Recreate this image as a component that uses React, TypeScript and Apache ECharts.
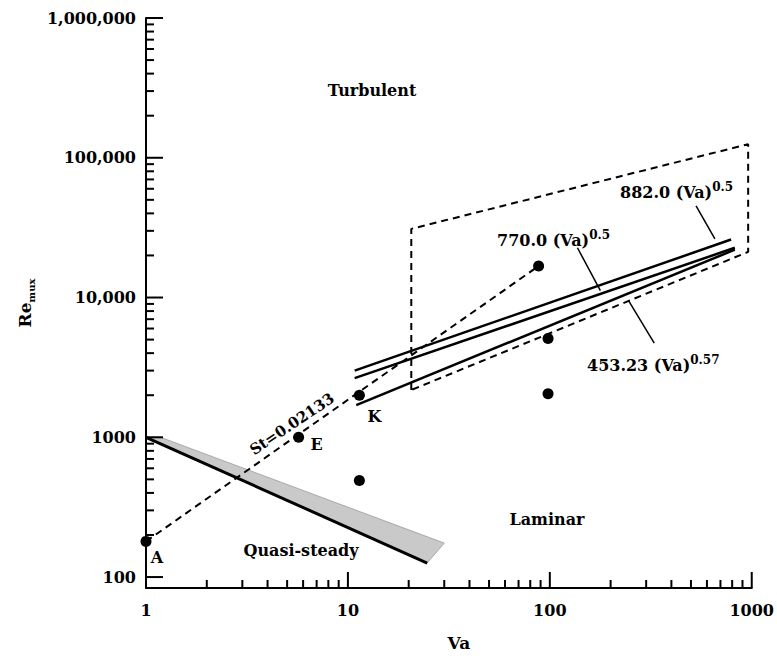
import React, { useEffect, useRef } from 'react';
import * as echarts from 'echarts';

// ---- axis ticks ----
const xTicks = [1, 10, 100, 1000];
const xTickLabels = ['1', '10', '100', '1000'];
const yTicks = [100, 1000, 10000, 100000, 1000000];
const yTickLabels = ['100', '1000', '10,000', '100,000', '1,000,000'];
const minorMult = [2, 3, 4, 5, 6, 7, 8, 9];
const xDecades = [1, 10, 100];
const yDecades = [100, 1000, 10000, 100000];
const X_MIN = 1;
const X_MAX = 1000;
const Y_MIN = 83.5;
const Y_MAX = 1000000;

// ---- data points ----
const pointX = [1, 5.7, 11.4, 11.4, 88, 98, 98];
const pointY = [180, 1000, 2000, 490, 16800, 5100, 2050];
const pointNames = ['A', 'E', 'K', '', '', '', ''];

// ---- St = 0.02133 dashed line ----
const stX = [1, 88];
const stY = [180, 16800];

// ---- correlation lines ----
const l882X = [10.8, 790];
const l882Y = [3000, 26000];
const l770X = [10.8, 825];
const l770Y = [2650, 22700];
const l453X = [11, 825];
const l453Y = [1700, 22000];

// ---- dashed envelope ----
const boxX = [20.6, 20.6, 960, 960, 20.6];
const boxY = [2180, 31000, 125000, 21200, 2180];

// ---- quasi-steady boundary and band ----
const quasiX = [1, 24.7];
const quasiY = [1000, 126];
const bandX = [1, 1.17, 30, 24.7];
const bandY = [1000, 1005, 175, 126];

// ---- leader lines ----
const lead882X = [530, 657];
const lead882Y = [45200, 26300];
const lead770X = [137, 178];
const lead770Y = [22700, 11200];
const lead453X = [245, 329];
const lead453Y = [9530, 4710];

const FONT = 'DejaVu Serif';

const zip = (xs: number[], ys: number[]) => xs.map((x, i) => [x, ys[i]]);

const labelOffsets: Record<string, number[]> = { A: [11, 16], E: [18, 7], K: [15, 21] };

function tickFormatter(ticks: number[], labels: string[]) {
  return (v: number) => {
    const i = ticks.findIndex((t) => Math.abs(Math.log10(t) - Math.log10(v)) < 1e-6);
    return i >= 0 ? labels[i] : '';
  };
}

export default function App() {
  const ref = useRef<HTMLDivElement>(null);
  useEffect(() => {
    document.body.style.margin = '0';
    const chart = echarts.init(ref.current!, null, { renderer: 'svg' });

    const solid = (w: number) => ({ color: '#000', width: w, opacity: 1 });
    const dashed = { color: '#000', width: 2, type: [7, 5] as any, opacity: 1 };

    const supRich = {
      m: { fontFamily: FONT, fontWeight: 'bold', fontSize: 16, color: '#000', lineHeight: 22 },
      s: { fontFamily: FONT, fontWeight: 'bold', fontSize: 12, color: '#000', lineHeight: 8, verticalAlign: 'top' },
    };
    const txt = (x: number, y: number, text: string, size = 16, align = 'center') => ({
      type: 'text',
      x,
      y,
      style: {
        text,
        fontFamily: FONT,
        fontWeight: 'bold',
        fontSize: size,
        fill: '#000',
        align,
        verticalAlign: 'middle',
      },
    });
    const supTxt = (x: number, y: number, text: string) => ({
      type: 'text',
      x,
      y,
      style: { text, rich: supRich, align: 'left', verticalAlign: 'middle' },
    });

    const axisLabelStyle = { fontFamily: FONT, fontWeight: 'bold', fontSize: 16, color: '#000' };

    const option: any = {
      animation: false,
      grid: { left: 146, right: 23, top: 18, bottom: 66, containLabel: false },
      xAxis: {
        type: 'log',
        logBase: 10,
        min: X_MIN,
        max: X_MAX,
        name: 'Va',
        nameLocation: 'middle',
        nameGap: 46,
        nameTextStyle: { fontFamily: FONT, fontWeight: 'bold', fontSize: 17, color: '#000', padding: [0, 0, 0, 20] },
        axisLine: { show: true, lineStyle: { color: '#000', width: 2 } },
        axisTick: { show: false },
        axisLabel: { ...axisLabelStyle, margin: 14, formatter: tickFormatter(xTicks, xTickLabels) },
        splitLine: { show: false },
      },
      yAxis: {
        type: 'log',
        logBase: 10,
        min: Y_MIN,
        max: Y_MAX,
        name: '{a|Re}{b|mux}',
        nameLocation: 'middle',
        nameGap: 108,
        nameTextStyle: {
          rich: {
            a: { fontFamily: FONT, fontWeight: 'bold', fontSize: 17, color: '#000', lineHeight: 22 },
            b: { fontFamily: FONT, fontWeight: 'bold', fontSize: 10, color: '#000', lineHeight: 8, verticalAlign: 'bottom' },
          },
        },
        axisLine: { show: true, lineStyle: { color: '#000', width: 2 } },
        axisTick: { show: false },
        axisLabel: { ...axisLabelStyle, margin: 10, formatter: tickFormatter(yTicks, yTickLabels) },
        splitLine: { show: false },
      },
      series: [
        {
          type: 'custom',
          z: 1,
          data: [[1, 1000]],
          renderItem: (_p: any, api: any) => ({
            type: 'polygon',
            shape: { points: bandX.map((x, i) => api.coord([x, bandY[i]])) },
            style: { fill: '#c9c9c9', stroke: '#9a9a9a', lineWidth: 0.8 },
          }),
        },
        { type: 'line', symbol: 'none', z: 3, data: zip(quasiX, quasiY), lineStyle: solid(3) },
        { type: 'line', symbol: 'none', z: 3, data: zip(stX, stY), lineStyle: dashed },
        { type: 'line', symbol: 'none', z: 3, data: zip(boxX, boxY), lineStyle: dashed },
        { type: 'line', symbol: 'none', z: 3, data: zip(l882X, l882Y), lineStyle: solid(2.5) },
        { type: 'line', symbol: 'none', z: 3, data: zip(l770X, l770Y), lineStyle: solid(2.5) },
        { type: 'line', symbol: 'none', z: 3, data: zip(l453X, l453Y), lineStyle: solid(2.5) },
        { type: 'line', symbol: 'none', z: 3, data: zip(lead882X, lead882Y), lineStyle: solid(1.5) },
        { type: 'line', symbol: 'none', z: 3, data: zip(lead770X, lead770Y), lineStyle: solid(1.5) },
        { type: 'line', symbol: 'none', z: 3, data: zip(lead453X, lead453Y), lineStyle: solid(1.5) },
        {
          type: 'scatter',
          z: 6,
          symbol: 'circle',
          symbolSize: 11,
          itemStyle: { color: '#000', opacity: 1 },
          data: pointX.map((x, i) => ({
            value: [x, pointY[i]],
            name: pointNames[i],
            itemStyle: { color: '#000', opacity: 1 },
            label: {
              show: pointNames[i] !== '',
              formatter: '{b}',
              position: 'inside',
              offset: labelOffsets[pointNames[i]] || [0, 0],
              fontFamily: FONT,
              fontWeight: 'bold',
              fontSize: 16,
              color: '#000',
              opacity: 1,
            },
          })),
        },
      ],
    };

    chart.setOption(option);

    // ticks drawn through the chart's own log scales
    const toPx = (x: number, y: number) => chart.convertToPixel({ gridIndex: 0 }, [x, y]) as number[];
    const tickEls: any[] = [];
    const yTick = (v: number, len: number) => {
      const p = toPx(X_MIN, v);
      tickEls.push({
        type: 'rect',
        z: 10,
        shape: { x: p[0], y: p[1] - 1, width: len, height: 2 },
        style: { fill: '#000' },
      });
    };
    const xTick = (v: number, len: number) => {
      const p = toPx(v, Y_MIN);
      tickEls.push({
        type: 'rect',
        z: 10,
        shape: { x: p[0] - 1, y: p[1] - len, width: 2, height: len },
        style: { fill: '#000' },
      });
    };
    yTicks.forEach((v) => yTick(v, 17));
    xTicks.slice(1).forEach((v) => xTick(v, 16));
    yDecades.forEach((d) => minorMult.forEach((m) => yTick(d * m, 8)));
    xDecades.forEach((d) => minorMult.forEach((m) => xTick(d * m, 8)));

    chart.setOption({
      graphic: [
        ...tickEls,
        txt(372, 90, 'Turbulent'),
        txt(547, 519, 'Laminar'),
        txt(301, 550, 'Quasi-steady'),
        {
          type: 'text',
          x: 292,
          y: 424,
          rotation: (34 * Math.PI) / 180,
          style: {
            text: 'St=0.02133',
            fontFamily: FONT,
            fontWeight: 'bold',
            fontSize: 15,
            fill: '#000',
            align: 'center',
            verticalAlign: 'middle',
          },
        },
        supTxt(620, 192, '{m|882.0 (Va)}{s|0.5}'),
        supTxt(497, 240, '{m|770.0 (Va)}{s|0.5}'),
        supTxt(587, 365, '{m|453.23 (Va)}{s|0.57}'),
      ],
    });
    return () => chart.dispose();
  }, []);
  return <div ref={ref} style={{ width: 777, height: 656 }} />;
}
